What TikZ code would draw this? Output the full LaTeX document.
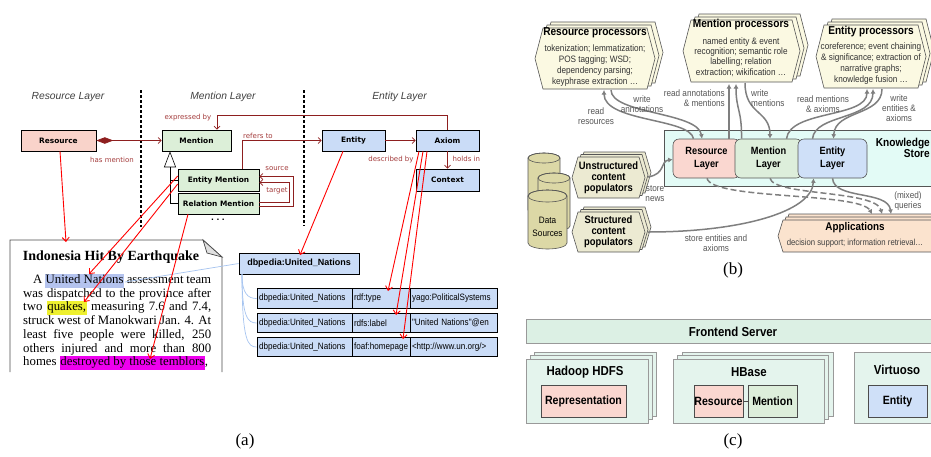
\documentclass[tikz,border=0pt]{standalone}
\usepackage{fontspec}
\setmainfont{Liberation Serif}
\newfontfamily\dv{DejaVu Sans}
\newfontfamily\ls{Liberation Sans}
\newfontfamily\nw[FakeStretch=0.88]{Liberation Sans}
\usetikzlibrary{arrows.meta}
\definecolor{apink}{HTML}{F9D3CA}
\definecolor{agreen}{HTML}{DCEFD8}
\definecolor{ablue}{HTML}{CADCF7}
\definecolor{umlred}{HTML}{8E1F1F}
\definecolor{labred}{HTML}{A33B3B}
\definecolor{lblue}{HTML}{A6C4F0}
\definecolor{hlblue}{HTML}{B4C3EE}
\definecolor{hlyellow}{HTML}{EEF02F}
\definecolor{hlmag}{HTML}{EE00EE}
\definecolor{cream}{HTML}{FBF9E2}
\definecolor{popfill}{HTML}{ECEAD2}
\definecolor{cylfill}{HTML}{DCD8A6}
\definecolor{ksfill}{HTML}{E3FBF6}
\definecolor{lpink}{HTML}{FAD7D0}
\definecolor{lgreen}{HTML}{DDEEDB}
\definecolor{lblueb}{HTML}{CFE0F8}
\definecolor{appfill}{HTML}{FBE3CE}
\definecolor{garrow}{HTML}{7F7F7F}
\definecolor{glabel}{HTML}{555555}
\definecolor{edge}{HTML}{555555}
\definecolor{cbar}{HTML}{DCF0E4}
\definecolor{cbox}{HTML}{E4F4ED}
\definecolor{cedge}{HTML}{999999}
\newcommand\hexd[6]{\path[#6] (#1,{(#2+#4)/2}) -- ({#1+#5},#2) -- ({#3-#5},#2) -- (#3,{(#2+#4)/2}) -- ({#3-#5},#4) -- ({#1+#5},#4) -- cycle;}
\newcommand\hexs[8]{\foreach \k in {2,1,0}{\begin{scope}[xshift={\k*#7pt}, yshift={\k*#8pt}]\hexd{#1}{#2}{#3}{#4}{#5}{#6}\end{scope}}}
\newcommand\cyl[5]{%
 \filldraw[fill=cylfill, draw=edge, line width=0.6pt] (#1,#2) -- (#1,#4) arc[start angle=180,end angle=360,x radius={#3/2*1pt},y radius=#5pt] -- ({#1+#3},#2) arc[start angle=0,end angle=180,x radius={#3/2*1pt},y radius=#5pt] -- cycle;
 \draw[draw=edge, line width=0.6pt] ({#1+#3/2},#2) ellipse[x radius={#3/2*1pt}, y radius=#5pt];}
\newcommand\hlt[2]{{\setlength\fboxsep{0.6pt}\colorbox{#1}{\rule[-3.4pt]{0pt}{12.6pt}#2}}}
\begin{document}
\begin{tikzpicture}[x=1pt,y=-1pt,
 umlbox/.style={draw=black, line width=0.6pt, inner sep=0pt, font=\dv\bfseries\fontsize{7.4}{9}\selectfont},
 umlline/.style={draw=umlred, line width=0.7pt},
 umltip/.style={-{Straight Barb[length=3pt,width=6pt]}},
 umllab/.style={font=\dv\fontsize{7}{8}\selectfont, text=labred, inner sep=0pt},
 layerlab/.style={font=\ls\itshape\fontsize{10.3}{12}\selectfont, text=black!75, inner sep=0pt},
 redarr/.style={draw=red, line width=0.9pt, -{Straight Barb[length=4pt,width=7pt]}},
 lbline/.style={draw=lblue, line width=0.7pt},
 cell/.style={draw=black, line width=0.6pt, fill=ablue, inner xsep=2pt, inner ysep=0pt, minimum height=19.5pt, align=left, font=\nw\fontsize{9.2}{10}\selectfont},
 hexst/.style={draw=edge, line width=0.6pt, fill=cream},
 popst/.style={draw=edge, line width=0.6pt, fill=popfill},
 appst/.style={draw=edge, line width=0.6pt, fill=appfill},
 ptitle/.style={font=\nw\bfseries\fontsize{11.5}{13}\selectfont, inner sep=0pt},
 pdesc/.style={font=\nw\fontsize{9.3}{11}\selectfont, text=black!80, align=center, inner sep=0pt},
 poptext/.style={font=\nw\bfseries\fontsize{10.7}{11}\selectfont, align=center, inner sep=0pt},
 glab/.style={font=\nw\fontsize{9.3}{10}\selectfont, text=glabel, align=center, inner sep=0pt},
 garr/.style={draw=garrow, line width=1.5pt, -{Latex[length=4.5pt,width=5pt]}},
 gdash/.style={garr, dash pattern=on 6pt off 3pt},
 layer/.style={draw=edge, line width=0.6pt, rounded corners=6pt, inner sep=0pt, align=center, font=\nw\bfseries\fontsize{10.5}{13}\selectfont},
 cbarst/.style={draw=cedge, line width=0.6pt, fill=cbar},
 cboxst/.style={draw=cedge, line width=0.6pt, fill=cbox},
 ctitle/.style={font=\nw\bfseries\fontsize{13}{14}\selectfont, inner sep=0pt},
 cinner/.style={draw=black!70, line width=0.6pt, inner sep=0pt, minimum height=32pt, font=\nw\bfseries\fontsize{12}{13}\selectfont},
 capt/.style={font=\fontsize{17}{19}\selectfont, inner sep=0pt}
]
\useasboundingbox (0,0) rectangle (931,456);
\begin{scope}
\clip (0,0) rectangle (931,456);

% ================= Panel (a) =================
\node[layerlab] (lyR) at (68,97) {Resource Layer};
\node[layerlab] (lyM) at (223,97) {Mention Layer};
\node[layerlab] (lyE) at (399.5,97) {Entity Layer};
\draw[line width=1.1pt, dash pattern=on 3pt off 2pt] (141,90) -- (141,227);
\draw[line width=1.1pt, dash pattern=on 3pt off 2pt] (304,90) -- (304,226);

\node[umlbox, fill=apink, minimum width=75pt, minimum height=21pt] (res) at (58.5,140.5) {Resource};
\node[umlbox, fill=agreen, minimum width=69pt, minimum height=21pt] (men) at (196.5,140.5) {Mention};
\node[umlbox, fill=ablue, minimum width=63pt, minimum height=21pt] (ent) at (353.5,140.5) {Entity};
\node[umlbox, fill=ablue, minimum width=63pt, minimum height=21pt] (axi) at (447.5,140.5) {Axiom};
\node[umlbox, fill=ablue, minimum width=63pt, minimum height=22pt] (ctx) at (447.5,180) {Context};
\node[umlbox, fill=agreen, minimum width=81pt, minimum height=22pt] (em) at (218.5,180) {Entity Mention};
\node[umlbox, fill=agreen, minimum width=81pt, minimum height=21pt] (rm) at (218.5,203.5) {Relation Mention};
\node[font=\dv\bfseries\fontsize{7.5}{8}\selectfont, inner sep=0pt] (dots) at (218,220) {.\,\,.\,\,.};

\draw[umlline, {Diamond[length=17pt,width=6.5pt]}-{Straight Barb[length=3pt,width=6pt]}] (res.east) -- (men.west);
\node[umllab] (lhas) at (112,160) {has mention};
\coordinate (ex) at (217,115);
\draw[umlline, umltip] (axi.north) |- (ex) -- ([xshift=20.5pt]men.north);
\node[umllab] (lexp) at (188,118) {expressed by};
\draw[umlline, umltip] ([xshift=23.5pt]em.north) |- (ent.west);
\node[umllab] (lref) at (258,136) {refers to};
\draw[umlline, umltip] (ent.east) -- (axi.west);
\node[umllab] (ldesc) at (391,160) {described by};
\draw[umlline, umltip] (axi.south) -- (ctx.north);
\node[umllab, anchor=west] (lhold) at (452.5,159) {holds in};
\coordinate (so1) at (293,206.5);
\coordinate (so2) at (293,176.5);
\coordinate (ta1) at (289,202);
\coordinate (ta2) at (289,182.5);
\draw[umlline, umltip] ([yshift=-3pt]rm.east) -- (so1) -- (so2) -- ([yshift=3.5pt]em.east);
\draw[umlline, umltip] ([yshift=1.5pt]rm.east) -- (ta1) -- (ta2) -- ([yshift=-2.5pt]em.east);
\node[umllab] (lsrc) at (277,169) {source};
\node[umllab] (ltgt) at (277,190.5) {target};
% generalisation
\coordinate (gb) at (170,203.5);
\draw[line width=0.6pt, -{Triangle[open,length=16pt,width=12pt]}] (gb) -- ([xshift=-26.5pt]men.south);
\draw[line width=0.6pt] (gb) -- (rm.west);
\draw[line width=0.6pt] (gb |- em.west) -- (em.west);

% document
\path[draw=black!70, line width=0.8pt, fill=white] (10,372) -- (10,240) -- (203,240) -- (222,257) -- (222,372);
\path[draw=black!70, line width=0.7pt, fill=black!12] (203,240) -- (207,253) -- (222,257) -- cycle;
\node[font=\bfseries\fontsize{14}{16}\selectfont, inner sep=0pt] (doctitle) at (111,257) {Indonesia Hit By Earthquake};
\node[anchor=north west, inner sep=0pt, text width=188pt, align=justify, font=\fontsize{12.8}{13.7}\selectfont] (docbody) at (23,273.5) {\lineskiplimit=-6pt\parfillskip=0pt\hspace*{10pt}A \hlt{hlblue}{United Nations} assessment team\linebreak
was dispatched to the province after\linebreak
two \hlt{hlyellow}{quakes,} measuring 7.6 and 7.4,\linebreak
struck west of Manokwari Jan. 4. At\linebreak
least five people were killed, 250\linebreak
others injured and more than 800\linebreak
homes \hlt{hlmag}{destroyed by those temblors},};

% dbpedia table
\node[draw=black, line width=0.7pt, fill=ablue, minimum width=120pt, minimum height=21pt, inner sep=0pt, font=\ls\bfseries\fontsize{9}{10}\selectfont] (db) at (299,263.5) {dbpedia:United\_Nations};
\node[cell, text width=91pt] (r1a) at (304.5,298.5) {dbpedia:United\_Nations};
\node[cell, text width=54pt] (r1b) at (381,298.5) {rdf:type};
\node[cell, text width=83pt] (r1c) at (453.5,298.5) {yago:PoliticalSystems};
\node[cell, text width=91pt] (r2a) at (304.5,323) {dbpedia:United\_Nations};
\node[cell, text width=54pt] (r2b) at (381,323) {rdfs:label};
\node[cell, text width=83pt] (r2c) at (453.5,323) {"United Nations"@en};
\node[cell, text width=91pt] (r3a) at (304.5,347) {dbpedia:United\_Nations};
\node[cell, text width=54pt] (r3b) at (381,347) {foaf:homepage};
\node[cell, text width=83pt] (r3c) at (453.5,347) {<http://www.un.org/>};
\coordinate (dbfoot) at (242,274);
\draw[lbline] (dbfoot) .. controls (242,294) and (248,298.5) .. (r1a.west);
\draw[lbline] (dbfoot) .. controls (242,318) and (248,323) .. (r2a.west);
\draw[lbline] (dbfoot) .. controls (242,342) and (248,347) .. (r3a.west);
\coordinate (unr) at (125,282);
\draw[lbline] (db.west) -- (unr);

% red links
\coordinate (tRes) at (66,242);
\coordinate (tUN) at (89,274);
\coordinate (tQu) at (84,302);
\coordinate (tDe) at (150,359);
\coordinate (tDb) at (300,255);
\coordinate (tT1) at (388,291);
\coordinate (tT2) at (396,315);
\coordinate (tT3) at (403,339);
\draw[redarr] ([xshift=1.5pt]res.south) -- (tRes);
\draw[redarr] ([yshift=4pt]em.west) -- (tUN);
\draw[redarr] ([yshift=-4pt]em.west) -- (tQu);
\draw[redarr] ([xshift=-30.5pt]rm.south) -- (tDe);
\draw[redarr] ([xshift=-10.5pt]ent.south) -- (tDb);
\draw[redarr] ([xshift=-28.5pt]axi.south) -- (tT1);
\draw[redarr] ([xshift=-24.5pt]axi.south) -- (tT2);
\draw[redarr] ([xshift=-20.5pt]axi.south) -- (tT3);

\node[capt] (capa) at (245,441) {(a)};

% ================= Panel (b) =================
\hexs{535}{28}{655}{89}{8}{hexst}{4}{3}
\hexs{683}{20}{800}{82}{8}{hexst}{4}{3}
\hexs{816}{25}{926}{88}{8}{hexst}{4}{3}
\node[ptitle] (rpT) at (595,33) {Resource processors};
\node[pdesc, font=\nw\fontsize{9.3}{11}\selectfont] (rpD) at (595,65.5) {tokenization; lemmatization;\\POS tagging; WSD;\\dependency parsing;\\keyphrase extraction \dots};
\node[ptitle] (mpT) at (741,25) {Mention processors};
\node[pdesc, font=\nw\fontsize{9.3}{10.3}\selectfont] (mpD) at (741,57) {named entity \& event\\recognition; semantic role\\labelling; relation\\extraction; wikification \dots};
\node[ptitle] (epT) at (871,32) {Entity processors};
\node[pdesc, font=\nw\fontsize{9.3}{11}\selectfont] (epD) at (871,63.5) {coreference; event chaining\\\& significance; extraction of\\narrative graphs;\\knowledge fusion \dots};

% knowledge store
\draw[draw=edge, line width=0.6pt, fill=ksfill] (664,130) rectangle (945,186);
\node[layer, fill=lpink, minimum width=67pt, minimum height=39pt] (ResL) at (706.5,158.5) {Resource\\Layer};
\node[layer, fill=lgreen, minimum width=67pt, minimum height=39pt] (MenL) at (768.5,158.5) {Mention\\Layer};
\node[layer, fill=lblueb, minimum width=69pt, minimum height=39pt] (EntL) at (832.5,158.5) {Entity\\Layer};
\node[font=\nw\bfseries\fontsize{11.5}{11}\selectfont, align=right, anchor=east, inner sep=0pt] (ksl) at (930,147.5) {Knowledge\\Store};

% data sources
\cyl{528}{158}{32}{210}{5}
\cyl{538}{178}{32}{226}{5}
\cyl{528}{196}{39}{243}{6}
\node[glab, text=black, font=\nw\fontsize{9.3}{13}\selectfont] (dsl) at (547.5,226.5) {Data\\Sources};

% populators
\hexs{572}{157}{645}{198}{6}{popst}{3}{2.5}
\hexs{572}{212}{645}{252}{6}{popst}{3}{2.5}
\node[poptext] (upop) at (608.5,178) {Unstructured\\content\\populators};
\node[poptext] (spop) at (608.5,231.5) {Structured\\content\\populators};

% applications
\hexs{778}{220}{940}{252}{5}{appst}{3}{3}
\node[font=\nw\bfseries\fontsize{11.2}{12}\selectfont, inner sep=0pt] (appT) at (855,228) {Applications};
\node[font=\nw\fontsize{8.8}{10}\selectfont, text=black!75, inner sep=0pt] (appD) at (855,243) {decision support; information retrieval\dots};

% arrows (b)
\coordinate (rpB1) at (604,90);
\coordinate (rpB2) at (611,90);
\coordinate (mpB1) at (729,84);
\coordinate (mpB2) at (736,84);
\coordinate (mpB3) at (745,83);
\coordinate (epB1) at (867,89);
\coordinate (epB2) at (873,89);
\coordinate (epB3) at (882,89);
\coordinate (apT1) at (872,214);
\coordinate (apT2) at (882,214);
\coordinate (apT3) at (891,214);
\draw[garr] ([xshift=-13pt]ResL.north) .. controls (690,118) and (604,122) .. (rpB1);
\draw[garr] (rpB2) .. controls (611,114) and (698,112) .. ([xshift=-4.5pt]ResL.north);
\draw[garr] ([xshift=22.5pt]ResL.north) -- (mpB1);
\draw[garr] ([xshift=-27pt]MenL.north) .. controls (742,110) and (736,110) .. (mpB2);
\draw[garr] (mpB3) .. controls (745,115) and (770,110) .. ([xshift=1.5pt]MenL.north);
\draw[garr] ([xshift=18pt]MenL.north) .. controls (790,110) and (867,118) .. (epB1);
\draw[garr] ([xshift=-20pt]EntL.north) .. controls (815,114) and (873,120) .. (epB2);
\draw[garr] (epB3) .. controls (882,116) and (835,110) .. ([xshift=1pt]EntL.north);
\draw[garr] (648,177) .. controls (666,174) and (660,161) .. ([yshift=-1pt]ResL.west);
\draw[garr] (648,232) .. controls (740,232) and (812,212) .. ([xshift=-19pt]EntL.south);
\draw[gdash] ([xshift=0.5pt]ResL.south) .. controls (712,200) and (860,192) .. (apT1);
\draw[gdash] ([xshift=1.5pt]MenL.south) .. controls (774,196) and (876,190) .. (apT2);
\draw[garr] (EntL.south) .. controls (834,200) and (888,190) .. (apT3);

\node[glab] (l1) at (596,116) {read\\resources};
\node[glab] (l2) at (642,104) {write\\annotations};
\node[glab, align=right, anchor=east] (l3) at (725,98) {read annotations\\\& mentions};
\node[glab, align=left, anchor=west] (l4) at (751,98) {write\\mentions};
\node[glab] (l5) at (823,104) {read mentions\\\& axioms};
\node[glab] (l6) at (899,108.5) {write\\entities \&\\axioms};
\node[glab] (l7) at (655,194) {store\\news};
\node[glab] (l8) at (716,243) {store entities and\\axioms};
\node[glab] (l9) at (908,201) {(mixed)\\queries};

\node[capt] (capb) at (733,270) {(b)};

% ================= Panel (c) =================
\draw[cbarst] (526,319) rectangle (945,343);
\node[ctitle] (fs) at (733,332) {Frontend Server};
\foreach \k in {2,1,0}{\draw[cboxst] (526+4*\k,359-3.5*\k) rectangle (648+4*\k,423-3.5*\k);}
\foreach \k in {2,1,0}{\draw[cboxst] (673+4.5*\k,359-3.5*\k) rectangle (824+4.5*\k,423-3.5*\k);}
\draw[cboxst] (854,352) rectangle (945,423);
\node[ctitle] (hd) at (585,372) {Hadoop HDFS};
\node[ctitle] (hb) at (749,372) {HBase};
\node[ctitle] (vi) at (897,370) {Virtuoso};
\node[cinner, fill=lpink, minimum width=85pt] (rep) at (583.5,401) {Representation};
\node[cinner, fill=lpink, minimum width=49pt] (cres) at (718.5,401) {Resource};
\node[cinner, fill=lgreen, minimum width=49pt] (cmen) at (772.5,401) {Mention};
\draw[black!70, line width=0.6pt] (cres.east) -- (cmen.west);
\node[cinner, fill=lblueb, minimum width=59pt] (cent) at (897.5,401) {Entity};

\node[capt] (capc) at (733,441) {(c)};
\end{scope}
\end{tikzpicture}
\end{document}
